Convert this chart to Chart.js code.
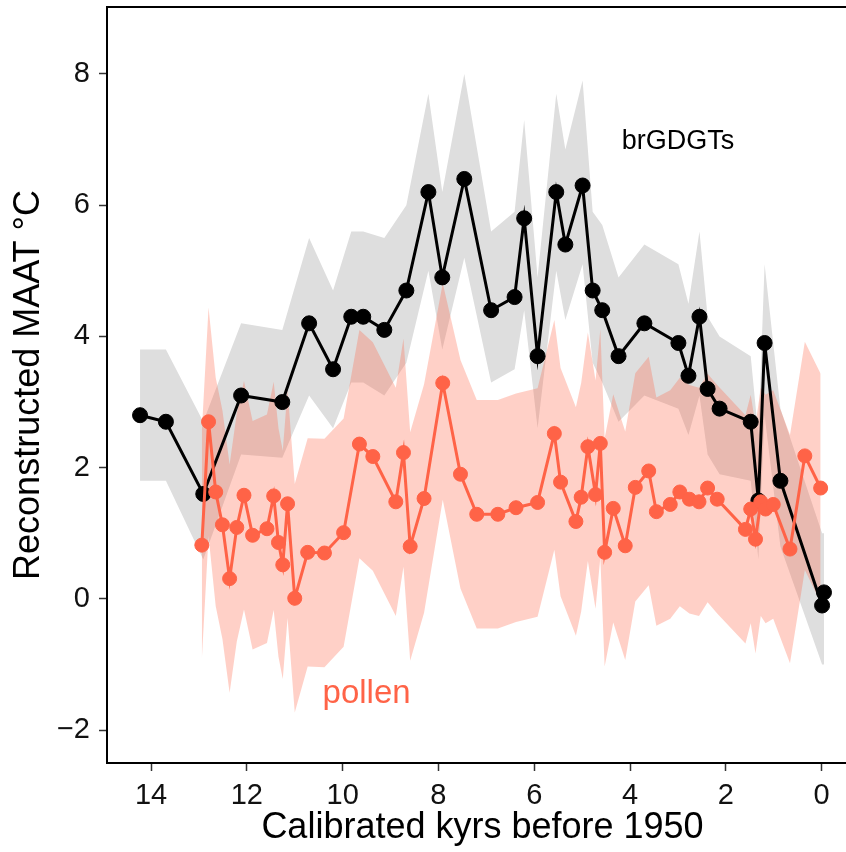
<!DOCTYPE html>
<html>
<head>
<meta charset="utf-8">
<script src="https://cdn.jsdelivr.net/npm/chart.js@4.4.0/dist/chart.umd.min.js"></script>
<style>
  html, body { margin: 0; padding: 0; background: #fff; overflow: hidden; }
  #wrap { width: 846px; height: 852px; overflow: hidden; }
</style>
</head>
<body>
<!-- the panel runs a little past the right edge, as in the original figure -->
<div id="wrap"><canvas id="myChart" width="858" height="852"></canvas></div>
<script>
// brGDGT reconstruction (kyr BP, MAAT, band)
const gdgtAge = [14.23, 13.69, 12.91, 12.12, 11.26, 10.70, 10.20, 9.82, 9.57, 9.13,
  8.67, 8.21, 7.92, 7.46, 6.90, 6.41, 6.21, 5.93, 5.54, 5.35,
  4.99, 4.78, 4.58, 4.24, 3.70, 2.99, 2.78, 2.55, 2.38, 2.13,
  1.48, 1.32, 1.19, 0.86, -0.01, -0.05];
const gdgtTemp = [2.8, 2.7, 1.6, 3.1, 3.0, 4.2, 3.5, 4.3, 4.3, 4.1,
  4.7, 6.2, 4.9, 6.4, 4.4, 4.6, 5.8, 3.7, 6.2, 5.4,
  6.3, 4.7, 4.4, 3.7, 4.2, 3.9, 3.4, 4.3, 3.2, 2.9,
  2.7, 1.5, 3.9, 1.8, -0.1, 0.1];
const gdgtHigh = [3.8, 3.8, 2.7, 4.2, 4.1, 5.5, 4.7, 5.6, 5.6, 5.5,
  6.0, 7.7, 6.2, 8.0, 5.6, 5.9, 7.3, 4.9, 7.7, 6.85,
  7.9, 5.9, 5.7, 4.9, 5.4, 5.1, 4.5, 5.6, 4.3, 4.0,
  3.7, 2.5, 5.1, 2.9, 1.0, 1.0];
const gdgtLow = [1.8, 1.8, 0.6, 2.2, 2.15, 3.1, 2.6, 3.3, 3.3, 3.1,
  3.6, 5.0, 3.8, 5.2, 3.3, 3.5, 4.4, 2.6, 5.0, 4.25,
  5.1, 3.6, 3.3, 2.7, 3.1, 2.9, 2.5, 3.1, 2.2, 1.9,
  1.8, 0.6, 2.8, 0.8, -1.0, -1.0];

// pollen reconstruction
const pollenAge = [12.94, 12.80, 12.65, 12.51, 12.36, 12.21, 12.06, 11.88, 11.58, 11.44,
  11.34, 11.25, 11.15, 11.00, 10.73, 10.38, 9.98, 9.65, 9.37, 8.89,
  8.73, 8.59, 8.30, 7.91, 7.54, 7.20, 6.76, 6.38, 5.93, 5.58,
  5.45, 5.13, 5.02, 4.88, 4.72, 4.62, 4.53, 4.35, 4.10, 3.89,
  3.61, 3.45, 3.16, 2.96, 2.76, 2.56, 2.38, 2.18, 1.59, 1.48,
  1.38, 1.27, 1.17, 1.01, 0.66, 0.35, 0.02];
const pollenTemp = [0.82, 2.70, 1.63, 1.13, 0.31, 1.09, 1.58, 0.97, 1.07, 1.57,
  0.86, 0.52, 1.45, 0.01, 0.71, 0.70, 1.01, 2.36, 2.17, 1.48,
  2.23, 0.80, 1.53, 3.29, 1.90, 1.29, 1.29, 1.39, 1.47, 2.52,
  1.78, 1.18, 1.55, 2.32, 1.59, 2.37, 0.71, 1.38, 0.81, 1.70,
  1.95, 1.33, 1.44, 1.63, 1.52, 1.48, 1.69, 1.52, 1.06, 1.37,
  0.91, 1.48, 1.37, 1.44, 0.76, 2.18, 1.69];
const pollenHigh = [2.56, 4.44, 3.37, 2.87, 2.05, 2.83, 3.32, 2.71, 2.81, 3.31,
  2.60, 2.26, 3.19, 1.75, 2.45, 2.44, 2.75, 4.10, 3.91, 3.22,
  3.97, 2.54, 3.27, 4.81, 3.64, 3.03, 3.03, 3.13, 3.21, 4.25,
  3.52, 2.92, 3.29, 4.06, 3.33, 4.11, 2.45, 3.12, 2.55, 3.44,
  3.69, 3.07, 3.18, 3.37, 3.26, 3.22, 3.43, 3.26, 2.80, 3.11,
  2.65, 3.22, 3.11, 3.18, 2.50, 3.92, 3.43];
const pollenLow = [-0.92, 0.96, -0.11, -0.61, -1.43, -0.65, -0.16, -0.77, -0.67, -0.17,
  -0.88, -1.22, -0.29, -1.73, -1.03, -1.04, -0.73, 0.62, 0.43, -0.26,
  0.49, -0.94, -0.21, 1.51, 0.16, -0.45, -0.45, -0.35, -0.27, 0.75,
  0.04, -0.56, -0.19, 0.58, -0.15, 0.63, -1.03, -0.36, -0.93, -0.04,
  0.21, -0.41, -0.30, -0.11, -0.22, -0.26, -0.05, -0.22, -0.68, -0.37,
  -0.83, -0.26, -0.37, -0.30, -0.98, 0.44, -0.05];

const xTicks = [0, 2, 4, 6, 8, 10, 12, 14];
const yTicks = [-2, 0, 2, 4, 6, 8];

const labelText = ["brGDGTs", "pollen"];
const labelAge = [3.0, 9.5];
const labelTemp = [6.85, -1.58];

const FONT = "'Liberation Sans', Arial, Helvetica, sans-serif";
const pts = (xs, ys) => xs.map((x, i) => ({ x: x, y: ys[i] }));

const labelPlugin = {
  id: "labels",
  afterDatasetsDraw(chart) {
    const c = chart.ctx, xs = chart.scales.x, ys = chart.scales.y;
    const colors = ["#000000", "#FF6347"];
    const sizes = [27, 33];
    c.save();
    c.textAlign = "center";
    c.textBaseline = "alphabetic";
    labelText.forEach((t, i) => {
      c.fillStyle = colors[i];
      c.font = sizes[i] + "px " + FONT;
      c.fillText(t, xs.getPixelForValue(labelAge[i]), ys.getPixelForValue(labelTemp[i]));
    });
    c.restore();
  },
  afterDraw(chart) {
    // top frame line
    const a = chart.chartArea, c = chart.ctx;
    c.save();
    c.strokeStyle = "#000";
    c.lineWidth = 2;
    c.beginPath();
    c.moveTo(a.left - 1, a.top);
    c.lineTo(chart.width, a.top);
    c.stroke();
    c.restore();
  }
};

const ctx = document.getElementById("myChart").getContext("2d");
const band = { borderColor: "rgba(0,0,0,0)", borderWidth: 0, pointRadius: 0, tension: 0 };

new Chart(ctx, {
  type: "line",
  data: {
    datasets: [
      { ...band, data: pts(gdgtAge, gdgtLow), fill: false, order: 6 },
      { ...band, data: pts(gdgtAge, gdgtHigh), fill: "-1", backgroundColor: "rgb(222,222,222)", order: 5 },
      { ...band, data: pts(pollenAge, pollenLow), fill: false, order: 4 },
      { ...band, data: pts(pollenAge, pollenHigh), fill: "-1", backgroundColor: "rgba(255,99,71,0.3)", order: 3 },
      {
        data: pts(gdgtAge, gdgtTemp), borderColor: "#000", borderWidth: 3,
        pointRadius: 7.5, pointBackgroundColor: "#000", pointBorderColor: "#000", pointBorderWidth: 1,
        fill: false, tension: 0, order: 2
      },
      {
        data: pts(pollenAge, pollenTemp), borderColor: "#FF6347", borderWidth: 3,
        pointRadius: 7, pointBackgroundColor: "#FF6347", pointBorderColor: "#FF6347", pointBorderWidth: 1,
        fill: false, tension: 0, order: 1
      }
    ]
  },
  options: {
    responsive: false,
    animation: false,
    devicePixelRatio: 1,
    layout: { autoPadding: false, padding: { top: 7, right: 0, left: 0, bottom: 0 } },
    plugins: { legend: { display: false }, tooltip: { enabled: false } },
    scales: {
      x: {
        type: "linear",
        reverse: true,
        min: -0.76,
        max: 14.92,
        afterBuildTicks: s => { s.ticks = xTicks.map(v => ({ value: v })); },
        afterFit: s => { s.height = 89; s.paddingLeft = 0; s.paddingRight = 0; },
        grid: { display: true, drawOnChartArea: false, drawTicks: true, tickLength: 8, tickWidth: 1.5, color: "#333" },
        border: { display: true, color: "#000", width: 2 },
        ticks: { color: "#111", padding: 8, font: { family: FONT, size: 29 }, maxRotation: 0 },
        title: { display: true, text: "Calibrated kyrs before 1950", color: "#000",
          font: { family: FONT, size: 36, lineHeight: 1 }, padding: { top: 0, bottom: 6 } }
      },
      y: {
        type: "linear",
        min: -2.5,
        max: 9.02,
        afterBuildTicks: s => { s.ticks = yTicks.map(v => ({ value: v })); },
        afterFit: s => { s.width = 107; s.paddingTop = 0; s.paddingBottom = 0; },
        grid: { display: true, drawOnChartArea: false, drawTicks: true, tickLength: 8, tickWidth: 1.5, color: "#333" },
        border: { display: true, color: "#000", width: 2 },
        ticks: { color: "#111", padding: 9, font: { family: FONT, size: 29 },
          callback: v => (v < 0 ? "\u2212" + Math.abs(v) : String(v)) },
        title: { display: true, text: "Reconstructed MAAT \u00B0C", color: "#000",
          font: { family: FONT, size: 36, lineHeight: 1 }, padding: { top: 11, bottom: 0 } }
      }
    }
  },
  plugins: [labelPlugin]
});
</script>
</body>
</html>
